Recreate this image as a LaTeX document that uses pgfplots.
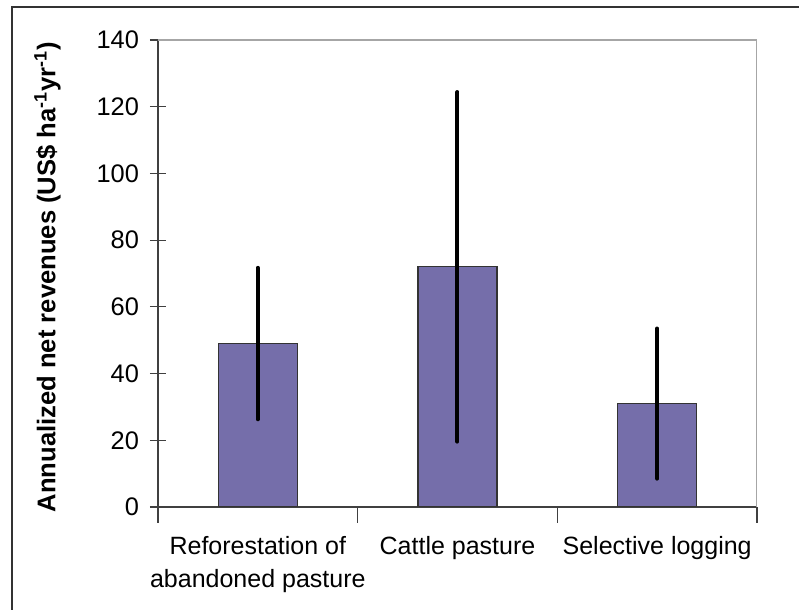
\documentclass[border=0pt]{standalone}
\usepackage{fontspec}
\setmainfont{Liberation Sans}
\usepackage{pgfplots}
\pgfplotsset{compat=1.18}
\definecolor{barfill}{HTML}{756EAA}
\begin{document}
\begin{tikzpicture}
\begin{axis}[
  at={(79pt,51.5pt)}, anchor=south west,
  scale only axis, width=299.5pt, height=233.5pt,
  xmin=-0.5, xmax=2.5, ymin=0, ymax=140,
  axis lines*=left,
  axis line style={draw=black!75, line width=0.6pt},
  /pgf/number format/assume math mode=true,
  ytick={0,20,...,140},
  xtick={0,1,2},
  xticklabels={Reforestation of\\abandoned pasture, Cattle pasture, Selective logging},
  minor xtick={-0.5,0.5,1.5,2.5},
  major x tick style={draw=none},
  tick align=center,
  major tick length=8pt, minor tick length=8pt,
  tick style={draw=black!75, line width=0.6pt},
  xticklabel style={align=center, font=\fontsize{12.5}{16.5}\selectfont, anchor=north, yshift=-3pt},
  yticklabel style={font=\fontsize{12.7}{15}\selectfont, anchor=east, xshift=-2pt},
  ylabel={Annualized net revenues (US\$ ha\textsuperscript{-1}yr\textsuperscript{-1})},
  ylabel style={font=\bfseries\fontsize{12.8}{14}\selectfont, at={(axis description cs:-0.1845,0.4925)}, anchor=center},
  ybar, bar width=39.5pt,
]
\addplot[fill=barfill, draw=black!80, line width=0.6pt,
  error bars/.cd, y dir=both, y explicit, error mark=none,
  error bar style={line width=2pt, black, line cap=round}]
  table[x=x, y=y, y error=e] {
x y e
0 49 22.7
1 72 52.4
2 31 22.5
};
\draw[black!35, line width=0.6pt] (rel axis cs:0,1) -- (rel axis cs:1,1) -- (rel axis cs:1,0);
\end{axis}
\draw[black!80, line width=0.7pt] (6pt,0) -- (6pt,301.5pt) -- (399.5pt,301.5pt);
\pgfresetboundingbox
\path[use as bounding box] (0,0) rectangle (399.5pt,305pt);
\end{tikzpicture}
\end{document}
